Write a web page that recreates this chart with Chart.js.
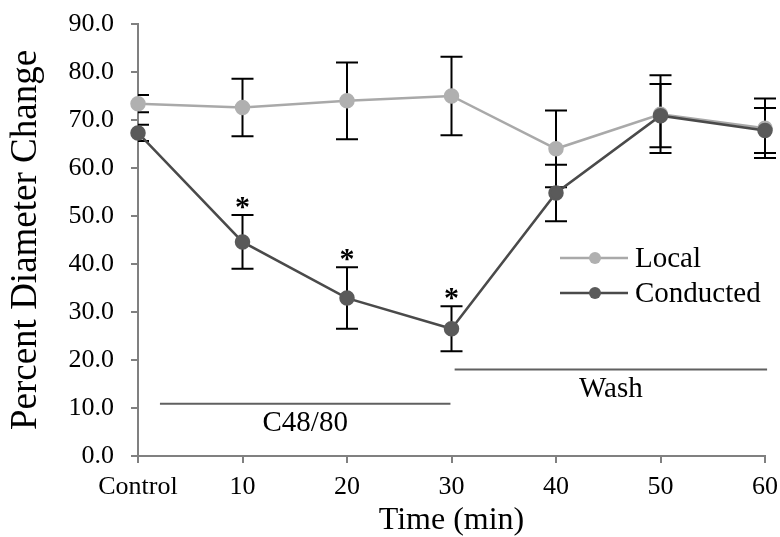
<!DOCTYPE html>
<html>
<head>
<meta charset="utf-8">
<title>Percent Diameter Change</title>
<script src="https://cdn.jsdelivr.net/npm/chart.js@4.4.1/dist/chart.umd.min.js"></script>
<style>
  html, body { margin: 0; padding: 0; background: #fff; }
  #wrap { width: 780px; height: 537px; position: relative; }
</style>
</head>
<body>
<div id="wrap"><canvas id="grafico"></canvas></div>
<script>
// dados
const timeLabels = ['Control', '10', '20', '30', '40', '50', '60'];
const localMean = [73.4, 72.6, 74.0, 75.0, 64.0, 71.2, 68.3];
const localErr = [1.8, 6.0, 8.0, 8.2, 8.0, 8.1, 6.2];
const conductedMean = [67.3, 44.6, 32.9, 26.5, 54.8, 70.9, 67.8];
const conductedErr = [1.7, 5.6, 6.4, 4.7, 5.9, 6.6, 4.7];
const significant = [false, true, true, true, false, false, false];

// periodos de tratamento (indice do eixo x, nivel no eixo y)
const phaseNames = ['C48/80', 'Wash'];
const phaseStart = [0.21, 3.03];
const phaseEnd = [2.99, 6.02];
const phaseLevel = [10.9, 18.0];

const yTicks = [0, 10, 20, 30, 40, 50, 60, 70, 80, 90];

const serif = "'Liberation Serif', 'Times New Roman', serif";
const corLocal = '#a9a9a9';
const corConducted = '#4a4a4a';
const corEixo = '#808080';

// barras de erro, asteriscos e linhas de tratamento
const extras = {
  id: 'extras',
  beforeDatasetsDraw(chart) {
    const ctx = chart.ctx;
    const x = chart.scales.x;
    const y = chart.scales.y;
    const area = chart.chartArea;
    ctx.save();
    ctx.beginPath();
    ctx.rect(area.left, area.top - 5, area.right - area.left + 20, area.bottom - area.top + 5);
    ctx.clip();
    ctx.strokeStyle = '#000';
    ctx.lineWidth = 2;
    const series = [[localMean, localErr], [conductedMean, conductedErr]];
    series.forEach(([mean, err]) => {
      mean.forEach((v, i) => {
        const px = x.getPixelForValue(i);
        const top = y.getPixelForValue(v + err[i]);
        const bot = y.getPixelForValue(v - err[i]);
        ctx.beginPath();
        ctx.moveTo(px, top); ctx.lineTo(px, bot);
        ctx.moveTo(px - 11, top); ctx.lineTo(px + 11, top);
        ctx.moveTo(px - 11, bot); ctx.lineTo(px + 11, bot);
        ctx.stroke();
      });
    });
    ctx.restore();

    // linhas dos periodos
    ctx.save();
    ctx.strokeStyle = '#606060';
    ctx.lineWidth = 2;
    ctx.fillStyle = '#000';
    ctx.font = '29px ' + serif;
    ctx.textAlign = 'center';
    ctx.textBaseline = 'middle';
    phaseNames.forEach((nome, i) => {
      const x1 = x.getPixelForValue(phaseStart[i]);
      const x2 = x.getPixelForValue(phaseEnd[i]);
      const py = y.getPixelForValue(phaseLevel[i]);
      ctx.beginPath();
      ctx.moveTo(x1, py); ctx.lineTo(x2, py);
      ctx.stroke();
      ctx.fillText(nome, (x1 + x2) / 2, py + 20);
    });
    ctx.restore();
  },
  afterDraw(chart) {
    const ctx = chart.ctx;
    const x = chart.scales.x;
    const y = chart.scales.y;
    ctx.save();
    ctx.fillStyle = '#000';
    ctx.font = 'bold 30px ' + serif;
    ctx.textAlign = 'center';
    ctx.textBaseline = 'alphabetic';
    significant.forEach((s, i) => {
      if (!s) return;
      const px = x.getPixelForValue(i);
      const top = y.getPixelForValue(conductedMean[i] + conductedErr[i]);
      ctx.fillText('*', px, top + 1);
    });

    // legenda
    const itens = [['Local', corLocal, '#b0b0b0'], ['Conducted', corConducted, '#5a5a5a']];
    ctx.textAlign = 'left';
    ctx.textBaseline = 'middle';
    ctx.font = '29px ' + serif;
    itens.forEach(([nome, cor, corPonto], i) => {
      const ly = 258 + i * 35;
      ctx.strokeStyle = cor;
      ctx.lineWidth = 2.5;
      ctx.beginPath();
      ctx.moveTo(560, ly); ctx.lineTo(628, ly);
      ctx.stroke();
      ctx.fillStyle = corPonto;
      ctx.beginPath();
      ctx.arc(595, ly, 6, 0, Math.PI * 2);
      ctx.fill();
      ctx.fillStyle = '#000';
      ctx.fillText(nome, 635, ly + 1);
    });
    ctx.restore();
  }
};

const ctx = document.getElementById('grafico').getContext('2d');
new Chart(ctx, {
  type: 'line',
  data: {
    labels: timeLabels,
    datasets: [
      {
        label: 'Local',
        data: localMean,
        borderColor: corLocal,
        backgroundColor: '#b0b0b0',
        pointBackgroundColor: '#b0b0b0',
        pointBorderColor: '#b0b0b0',
        borderWidth: 2.5,
        pointRadius: 6.5,
        pointHoverRadius: 6.5,
        tension: 0,
        clip: false,
        order: 2
      },
      {
        label: 'Conducted',
        data: conductedMean,
        borderColor: corConducted,
        backgroundColor: '#5a5a5a',
        pointBackgroundColor: '#5a5a5a',
        pointBorderColor: '#5a5a5a',
        borderWidth: 2.5,
        pointRadius: 6.5,
        pointHoverRadius: 6.5,
        tension: 0,
        clip: false,
        order: 1
      }
    ]
  },
  options: {
    responsive: true,
    maintainAspectRatio: false,
    animation: false,
    layout: { padding: { left: 4, right: 15, top: 24, bottom: 0 } },
    plugins: {
      legend: { display: false },
      tooltip: { enabled: false }
    },
    scales: {
      x: {
        offset: false,
        afterFit(scale) {
          scale.height = 81;
          scale.paddingLeft = 0;
          scale.paddingRight = 0;
        },
        grid: { display: true, drawOnChartArea: false, drawTicks: true, tickLength: 7, color: corEixo, lineWidth: 2 },
        border: { color: corEixo, width: 2 },
        ticks: { color: '#000', font: { family: serif, size: 26 }, padding: 9, maxRotation: 0, autoSkip: false },
        title: { display: true, text: 'Time (min)', color: '#000', font: { family: serif, size: 32, lineHeight: 1 }, padding: { top: 2, bottom: 0 } }
      },
      y: {
        min: 0,
        max: 90,
        afterBuildTicks(scale) { scale.ticks = yTicks.map(v => ({ value: v })); },
        afterFit(scale) {
          scale.width = 134;
          scale.paddingTop = 0;
          scale.paddingBottom = 0;
        },
        grid: { display: true, drawOnChartArea: false, drawTicks: true, tickLength: 7, color: corEixo, lineWidth: 2 },
        border: { color: corEixo, width: 2 },
        ticks: { color: '#000', font: { family: serif, size: 26 }, padding: 17, callback: v => v.toFixed(1) },
        title: { display: true, text: 'Percent Diameter Change', color: '#000', font: { family: serif, size: 37, lineHeight: 1.2 }, padding: { top: 0, bottom: 8 } }
      }
    }
  },
  plugins: [extras]
});
</script>
</body>
</html>
